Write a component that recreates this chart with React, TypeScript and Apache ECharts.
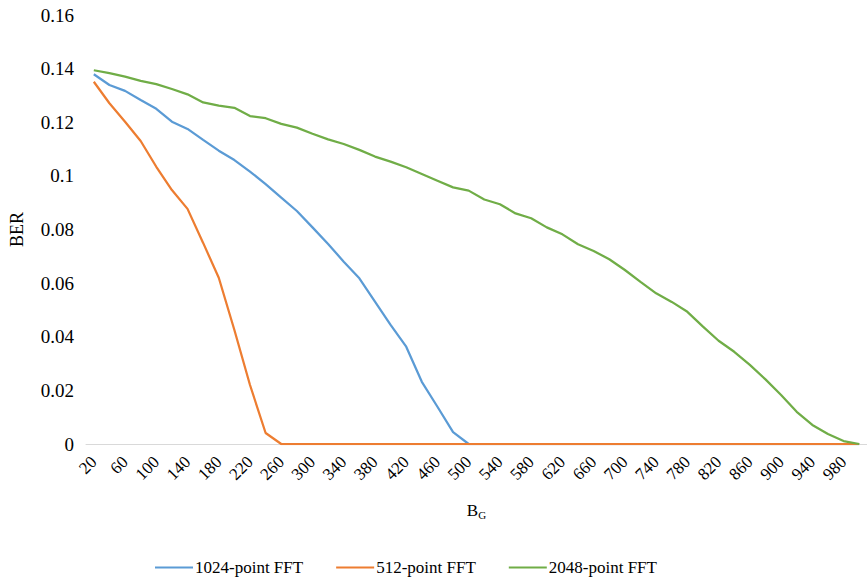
import React, { useEffect, useRef } from "react";
import * as echarts from "echarts";

const categories: string[] = [];
for (let v = 20; v <= 1000; v += 20) categories.push(String(v));

const fft1024 = [
  0.1379, 0.1339, 0.1317, 0.1283, 0.125, 0.1202, 0.1175, 0.1134, 0.1094, 0.1059,
  0.1016, 0.0969, 0.0919, 0.0869, 0.0808, 0.0746, 0.068, 0.0618, 0.0531, 0.0444,
  0.0363, 0.0232, 0.0139, 0.0044, 0, 0, 0, 0, 0, 0,
  0, 0, 0, 0, 0, 0, 0, 0, 0, 0,
  0, 0, 0, 0, 0, 0, 0, 0, 0, 0,
];

const fft512 = [
  0.1351, 0.1271, 0.1202, 0.113, 0.1034, 0.0947, 0.0877, 0.075, 0.062, 0.0425,
  0.022, 0.0041, 0, 0, 0, 0, 0, 0, 0, 0,
  0, 0, 0, 0, 0, 0, 0, 0, 0, 0,
  0, 0, 0, 0, 0, 0, 0, 0, 0, 0,
  0, 0, 0, 0, 0, 0, 0, 0, 0, 0,
];

const fft2048 = [
  0.1394, 0.1383, 0.137, 0.1354, 0.1342, 0.1324, 0.1304, 0.1274, 0.1262, 0.1254,
  0.1223, 0.1215, 0.1194, 0.118, 0.1157, 0.1136, 0.1119, 0.1097, 0.1072, 0.1053,
  0.1032, 0.1007, 0.0982, 0.0957, 0.0945, 0.0912, 0.0894, 0.086, 0.0842, 0.0808,
  0.0782, 0.0745, 0.072, 0.0689, 0.0649, 0.0605, 0.0562, 0.053, 0.0493, 0.0438,
  0.0385, 0.0344, 0.0295, 0.0241, 0.0183, 0.012, 0.0071, 0.0037, 0.0011, 0,
];

const seriesNames = ["1024-point FFT", "512-point FFT", "2048-point FFT"];
const colors = ["#5B9BD5", "#ED7D31", "#70AD47"];

const FONT = "'Liberation Serif', 'Times New Roman', serif";

export default function App() {
  const ref = useRef<HTMLDivElement>(null);
  useEffect(() => {
    if (!ref.current) return;
    const chart = echarts.init(ref.current, undefined, { renderer: "svg" });
    const data = [fft1024, fft512, fft2048];
    chart.setOption({
      animation: false,
      backgroundColor: "#fff",
      textStyle: { fontFamily: FONT },
      grid: { left: 83, right: -8, top: 15, bottom: 136 },
      legend: {
        bottom: 4,
        left: 155,
        padding: 0,
        icon: "rect",
        itemWidth: 38,
        itemHeight: 2,
        itemGap: 33,
        textStyle: { fontFamily: FONT, fontSize: 17, color: "#000", padding: [0, 0, 0, -3] },
        data: seriesNames,
      },
      xAxis: {
        type: "category",
        data: categories,
        boundaryGap: true,
        axisLine: { lineStyle: { color: "#D9D9D9", width: 1 } },
        axisTick: { show: false },
        axisLabel: {
          interval: 1,
          rotate: 45,
          margin: 15,
          fontFamily: FONT,
          fontSize: 17,
          color: "#000",
        },
        name: "{b|B}{s|G}",
        nameLocation: "middle",
        nameGap: 57,
        nameTextStyle: {
          rich: {
            b: { fontFamily: FONT, fontSize: 17, color: "#000" },
            s: { fontFamily: FONT, fontSize: 11, color: "#000", verticalAlign: "bottom", padding: [8, 0, 0, 0] },
          },
        },
      },
      yAxis: {
        type: "value",
        min: 0,
        max: 0.16,
        interval: 0.02,
        axisLine: { show: false },
        axisTick: { show: false },
        splitLine: { show: false },
        axisLabel: {
          margin: 12,
          fontFamily: FONT,
          fontSize: 19,
          color: "#000",
        },
        name: "BER",
        nameLocation: "middle",
        nameGap: 60,
        nameTextStyle: { fontFamily: FONT, fontSize: 18, color: "#000" },
      },
      series: data.map((d, i) => ({
        name: seriesNames[i],
        type: "line",
        data: d,
        symbol: "none",
        color: colors[i],
        itemStyle: { color: colors[i] },
        lineStyle: { width: 2.25, color: colors[i] },
      })),
    });
    return () => chart.dispose();
  }, []);
  return (
    <div
      ref={ref}
      style={{ position: "absolute", left: 0, top: 0, width: 867, height: 580 }}
    />
  );
}
